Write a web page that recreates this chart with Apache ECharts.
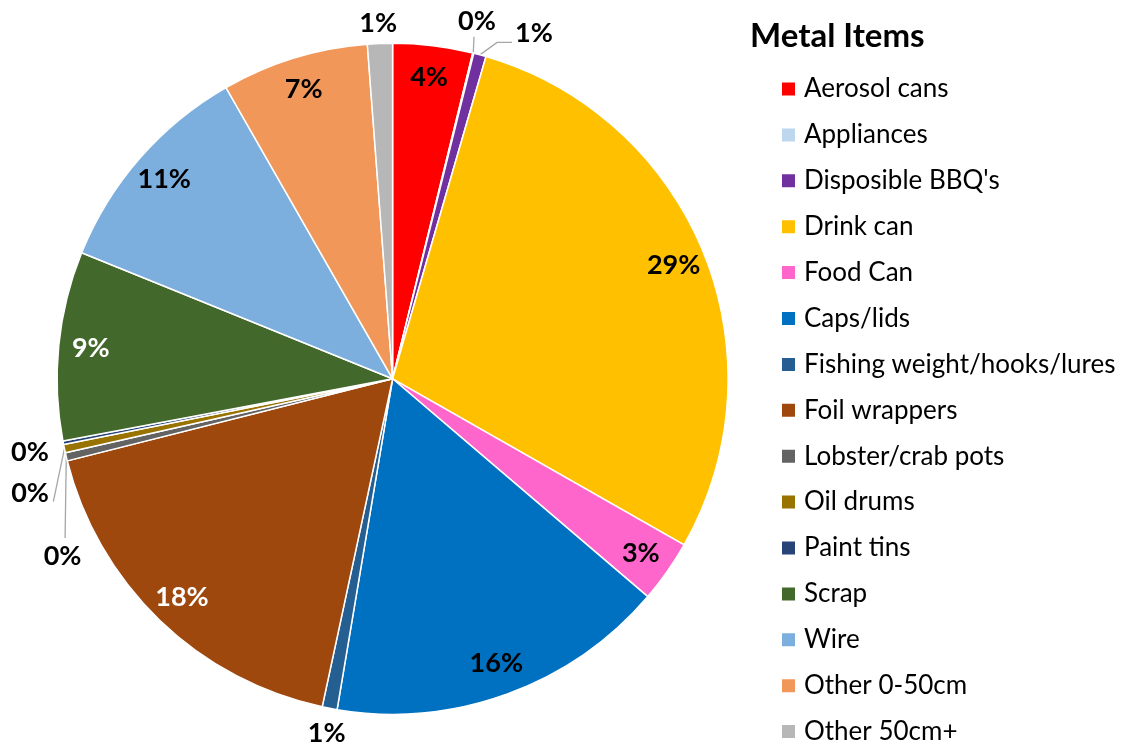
<!DOCTYPE html>
<html>
<head>
<meta charset="utf-8">
<script src="https://cdn.jsdelivr.net/npm/echarts@6/dist/echarts.min.js"></script>
<style>
  html, body { margin: 0; padding: 0; background: #fff; }
  #chart { width: 1131px; height: 747px; }
</style>
</head>
<body>
<div id="chart"></div>
<script>
// Metal litter items, share of total count (%)
const categories = [
  'Aerosol cans', 'Appliances', "Disposible BBQ's", 'Drink can', 'Food Can',
  'Caps/lids', 'Fishing weight/hooks/lures', 'Foil wrappers', 'Lobster/crab pots',
  'Oil drums', 'Paint tins', 'Scrap', 'Wire', 'Other 0-50cm', 'Other 50cm+'
];
const shares = [
  3.84, 0.05, 0.6, 28.75, 3.0,
  16.4, 0.72, 17.7, 0.4,
  0.4, 0.16, 9.1, 10.6, 7.07, 1.2
];
const colors = [
  '#FF0000', '#BDD7EE', '#7030A0', '#FFC000', '#FF66CC',
  '#0070C0', '#255E91', '#9E480E', '#636363',
  '#997300', '#264478', '#43682B', '#7CAFDD', '#F1975A', '#B7B7B7'
];
const titleText = 'Metal Items';

// Styling
const FONT = 'Lato, Carlito, "Liberation Sans", sans-serif';
const CENTER = [392.6, 378.8];
const RADIUS = 335.5;
const whiteLabels = ['Foil wrappers', 'Scrap'];
const leaderColor = '#A6A6A6';

// Thin slices carry their label outside the pie: offset of the label centre
// from the slice's rim point, plus an optional leader line (points relative
// to the label centre).
const outsideLabels = {
  'Appliances':                 { dx: 3.7,  dy: -32.3, line: [[-3, 16]] },
  "Disposible BBQ's":           { dx: 54.1, dy: -21.4, line: [[-37, 9], [-22, 9]] },
  'Fishing weight/hooks/lures': { dx: -2.9, dy: 25 },
  'Lobster/crab pots':          { dx: -3.7, dy: 100, line: [[2.5, -18.7]] },
  'Oil drums':                  { dx: -34.4, dy: 44.7, line: [[23.3, 8.4]] },
  'Paint tins':                 { dx: -33.3, dy: 9.4 },
  'Other 50cm+':                { dx: -1.7, dy: -20.6 }
};

const pctFormatter = p => Math.round(p.percent) + '%';

const outerData = categories.map((name, i) => ({
  name,
  value: shares[i],
  itemStyle: { color: colors[i] },
  label: { show: !!outsideLabels[name] },
  labelLine: { show: !!outsideLabels[name] }
}));

const innerData = categories.map((name, i) => ({
  name,
  value: shares[i],
  label: {
    show: !outsideLabels[name],
    color: whiteLabels.includes(name) ? '#FFFFFF' : '#000000'
  }
}));

const chart = echarts.init(document.getElementById('chart'), null, { renderer: 'canvas' });

chart.setOption({
  backgroundColor: '#FFFFFF',
  animation: false,
  color: colors,
  title: {
    text: titleText,
    left: 745,
    top: 15,
    textStyle: { fontFamily: FONT, fontSize: 33, fontWeight: 'bold', color: '#000' }
  },
  legend: {
    orient: 'vertical',
    left: 780,
    top: 76,
    padding: 0,
    data: categories,
    icon: 'rect',
    itemWidth: 15,
    itemHeight: 15,
    itemGap: 19.9,
    selectedMode: false,
    textStyle: {
      fontFamily: FONT, fontSize: 26, color: '#000',
      padding: [0, 0, 0, 3]
    }
  },
  series: [
    {
      // the slices themselves, with outside labels for the thin ones
      type: 'pie',
      center: CENTER,
      radius: RADIUS,
      startAngle: 90,
      clockwise: true,
      avoidLabelOverlap: false,
      silent: true,
      itemStyle: { borderColor: '#FFFFFF', borderWidth: 1.5 },
      label: {
        position: 'outside',
        formatter: pctFormatter,
        fontFamily: FONT, fontSize: 27, fontWeight: 'bold', color: '#000'
      },
      labelLine: {
        length: 10, length2: 0,
        lineStyle: { color: leaderColor, width: 1.3 }
      },
      labelLayout: function (p) {
        const name = categories[p.dataIndex];
        const spec = outsideLabels[name];
        if (!spec || !p.labelLinePoints) return {};
        const a = p.labelLinePoints[0];
        const cx = a[0] + spec.dx;
        const cy = a[1] + spec.dy;
        const pts = [[a[0], a[1]]];
        if (spec.line) {
          spec.line.forEach(q => pts.push([cx + q[0], cy + q[1]]));
        } else {
          pts.push([a[0], a[1]]);
        }
        return {
          x: cx, y: cy,
          align: 'center', verticalAlign: 'middle',
          labelLinePoints: pts
        };
      },
      data: outerData
    },
    {
      // transparent ring that places the inside labels near the rim
      type: 'pie',
      center: CENTER,
      radius: [265, RADIUS],
      startAngle: 90,
      clockwise: true,
      silent: true,
      avoidLabelOverlap: false,
      itemStyle: { color: 'rgba(0,0,0,0)', borderWidth: 0 },
      emphasis: { disabled: true },
      label: {
        position: 'inside',
        formatter: pctFormatter,
        fontFamily: FONT, fontSize: 27, fontWeight: 'bold'
      },
      labelLine: { show: false },
      data: innerData
    }
  ]
});
</script>
</body>
</html>
